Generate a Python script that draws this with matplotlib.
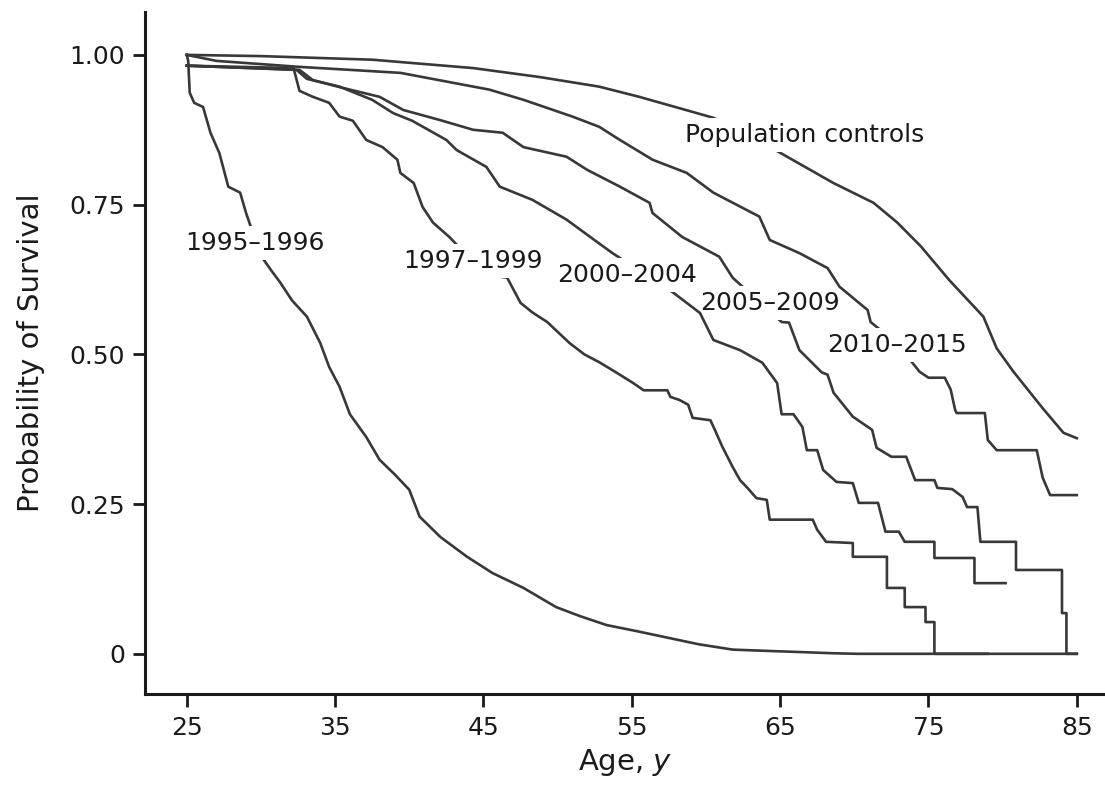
import matplotlib
matplotlib.use("Agg")
import matplotlib.pyplot as plt
from matplotlib.path import Path
from matplotlib.transforms import IdentityTransform

# repeated ages mark the vertical drops of the Kaplan-Meier steps
age_1995 = [25, 25.1, 25.2, 25.5, 26.1, 26.6, 27.2, 27.8, 28.6, 29.0, 29.5, 30.1, 30.7, 31.3, 32.1,
            33.1, 34.0, 34.6, 35.3, 36.0, 37.1, 38.0, 39.0, 40.0, 40.7, 42.1, 43.9, 45.6,
            47.7, 49.9, 51.5, 53.3, 55.5, 57.4, 59.5, 61.8, 64.0, 66.3, 68.5, 70.2, 85]
surv_1995 = [1.0, 0.99, 0.937, 0.92, 0.913, 0.87, 0.836, 0.78, 0.77, 0.736, 0.70, 0.661, 0.64, 0.62, 0.59,
             0.563, 0.519, 0.479, 0.446, 0.40, 0.362, 0.324, 0.30, 0.274, 0.229, 0.195, 0.162, 0.135,
             0.11, 0.078, 0.063, 0.048, 0.037, 0.027, 0.016, 0.007, 0.005, 0.003, 0.001, 0.0, 0.0]

age_1997 = [25, 32.2, 32.6, 33.5, 34.6, 35.3, 36.2, 37.1, 38.2, 39.2, 39.4, 40.3, 40.9, 41.6, 42.7,
            43.9, 45.2, 46.6, 47.5, 48.3, 49.3, 50.8, 51.8, 52.8, 54.2, 55.1, 55.8, 57.4, 57.6,
            58.2, 58.8, 59.1, 60.3, 60.6, 61.1, 61.8, 62.3, 62.8, 63.4, 64.1, 64.3, 67.2, 67.5,
            68.1, 69.9, 69.9, 72.2, 72.2, 73.4, 73.4, 74.8, 74.8, 75.4, 75.4, 79.0]
surv_1997 = [0.982, 0.978, 0.94, 0.93, 0.92, 0.897, 0.89, 0.858, 0.846, 0.825, 0.803, 0.786, 0.746, 0.72, 0.696,
             0.665, 0.633, 0.628, 0.586, 0.57, 0.554, 0.519, 0.50, 0.487, 0.466, 0.452, 0.44, 0.44, 0.429,
             0.424, 0.416, 0.394, 0.39, 0.374, 0.346, 0.312, 0.29, 0.277, 0.26, 0.257, 0.224, 0.224, 0.207,
             0.187, 0.185, 0.162, 0.162, 0.11, 0.11, 0.078, 0.078, 0.053, 0.053, 0.0, 0.0]

age_2000 = [25, 32.4, 33.1, 35.3, 37.5, 38.9, 40.2, 42.5, 43.2, 45.2, 46.1, 48.3, 50.6, 52.2,
            53.7, 55.5, 57.8, 59.6, 60.5, 62.3, 63.8, 64.8, 65.1, 65.9, 66.5, 66.8, 67.5, 67.9,
            68.8, 69.9, 70.3, 71.6, 72.1, 73.0, 73.4, 75.4, 75.4, 78.1, 78.1, 80.2]
surv_2000 = [0.982, 0.975, 0.96, 0.947, 0.925, 0.903, 0.89, 0.858, 0.841, 0.813, 0.78, 0.758, 0.725, 0.696,
             0.669, 0.64, 0.603, 0.569, 0.524, 0.507, 0.486, 0.452, 0.40, 0.40, 0.379, 0.34, 0.34, 0.307,
             0.287, 0.285, 0.252, 0.252, 0.204, 0.204, 0.187, 0.187, 0.16, 0.16, 0.118, 0.118]

age_2005 = [25, 32.6, 33.5, 35.5, 38.0, 39.6, 42.1, 44.3, 46.3, 47.7, 50.6, 52.0, 54.2, 56.2,
            56.4, 58.4, 60.9, 61.8, 63.5, 65.1, 65.6, 66.3, 67.8, 68.2, 68.6, 69.9, 71.2, 71.5,
            72.5, 73.5, 74.1, 75.4, 75.6, 76.6, 77.3, 77.6, 78.3, 78.5, 80.9, 80.9, 84.0, 84.0,
            84.3, 84.3, 85]
surv_2005 = [0.982, 0.975, 0.958, 0.945, 0.93, 0.908, 0.891, 0.875, 0.87, 0.846, 0.83, 0.808, 0.78, 0.753,
             0.736, 0.696, 0.663, 0.628, 0.59, 0.554, 0.553, 0.507, 0.47, 0.466, 0.436, 0.396, 0.374, 0.344,
             0.329, 0.329, 0.29, 0.29, 0.277, 0.275, 0.262, 0.245, 0.245, 0.187, 0.187, 0.14, 0.14, 0.068,
             0.068, 0.0, 0.0]

age_2010 = [25, 27, 32.6, 39.4, 45.4, 47.7, 51, 52.8, 54.2, 56.4, 58.7, 60.5, 63.6, 64.3, 66.3,
            68.2, 69, 70.9, 71.1, 72.3, 73.75, 74.4, 75.0, 76.1, 76.5, 76.8, 76.9, 78.8, 79.0,
            79.6, 82.3, 82.7, 83.2, 85]
surv_2010 = [1.0, 0.99, 0.98, 0.97, 0.942, 0.925, 0.897, 0.88, 0.858, 0.825, 0.803, 0.77, 0.73, 0.691, 0.669,
             0.644, 0.613, 0.574, 0.554, 0.53, 0.491, 0.471, 0.461, 0.461, 0.441, 0.407, 0.402, 0.402, 0.357,
             0.34, 0.34, 0.294, 0.265, 0.265]

age_pop = [25, 30, 37.5, 44.3, 48.8, 52.8, 55.5, 60.5, 62.5, 64.4, 68.6, 71.3, 72.9, 74.5,
           76.4, 78.7, 79.6, 80.7, 82.7, 84.1, 85]
surv_pop = [1.0, 0.998, 0.992, 0.978, 0.963, 0.947, 0.93, 0.895, 0.87, 0.845, 0.786, 0.753, 0.72, 0.68,
            0.624, 0.563, 0.51, 0.472, 0.41, 0.369, 0.36]

curves = [(age_1995, surv_1995), (age_1997, surv_1997), (age_2000, surv_2000),
          (age_2005, surv_2005), (age_2010, surv_2010), (age_pop, surv_pop)]

# label text and where it sits (age, survival at baseline)
labels = ['1995\u20131996', '1997\u20131999', '2000\u20132004', '2005\u20132009', '2010\u20132015',
          'Population controls']
label_x = [24.9, 39.6, 50.0, 59.6, 68.2, 58.6]
label_y = [0.674, 0.644, 0.621, 0.574, 0.504, 0.855]

plt.rcParams['font.family'] = 'DejaVu Sans'

fig = plt.figure(figsize=(11.05, 7.85), dpi=100)
ax = fig.add_axes([0.131, 0.116, 0.869, 0.869])

line_col = '#383838'
lines = []
texts = []
for (ages, surv), txt, lx, ly in zip(curves, labels, label_x, label_y):
    ln, = ax.plot(ages, surv, color=line_col, lw=1.9, zorder=2)
    lines.append(ln)
    texts.append(ax.text(lx, ly, txt, fontsize=18, ha='left', va='baseline',
                         color='#1a1a1a', zorder=3))

ax.set_xlim(22.17, 86.9)
ax.set_ylim(-0.067, 1.072)
ax.set_xticks([25, 35, 45, 55, 65, 75, 85])
ax.set_yticks([0, 0.25, 0.5, 0.75, 1.0])
ax.set_yticklabels(['0', '0.25', '0.50', '0.75', '1.00'])
ax.tick_params(labelsize=18, width=2, length=9, color='#1a1a1a', labelcolor='#1a1a1a')
ax.tick_params(axis='y', pad=5)
ax.tick_params(axis='x', pad=7)

for side in ['top', 'right']:
    ax.spines[side].set_visible(False)
for side in ['left', 'bottom']:
    ax.spines[side].set_linewidth(2.2)
    ax.spines[side].set_color('#1a1a1a')

ax.set_xlabel('Age, $\\it{y}$', fontsize=21, labelpad=5, color='#1a1a1a')
ax.set_ylabel('Probability of Survival', fontsize=21, labelpad=18, color='#1a1a1a')

# break each curve where its own label sits (clip path with a hole around the label)
fig.canvas.draw()
renderer = fig.canvas.get_renderer()
ab = ax.bbox
for ln, t in zip(lines, texts):
    tb = t.get_window_extent(renderer).padded(5)
    verts = [(ab.x0, ab.y0), (ab.x1, ab.y0), (ab.x1, ab.y1), (ab.x0, ab.y1), (ab.x0, ab.y0),
             (tb.x0, tb.y0), (tb.x0, tb.y1), (tb.x1, tb.y1), (tb.x1, tb.y0), (tb.x0, tb.y0)]
    codes = [Path.MOVETO, Path.LINETO, Path.LINETO, Path.LINETO, Path.CLOSEPOLY] * 2
    ln.set_clip_path(Path(verts, codes), IdentityTransform())

fig.savefig('out.png', dpi=100)
